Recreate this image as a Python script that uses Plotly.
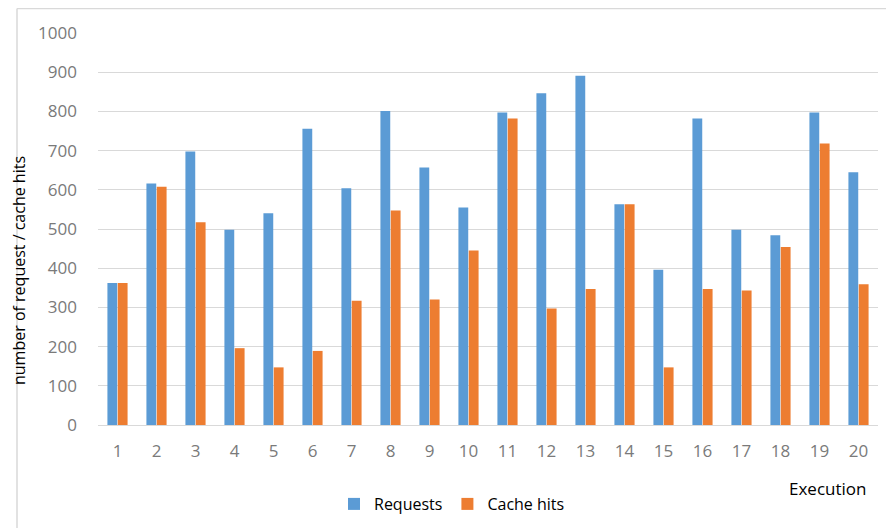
import plotly.graph_objects as go

executions = [str(i) for i in range(1, 21)]
requests = [362, 616, 698, 498, 540, 756, 604, 801, 657, 555,
            797, 846, 891, 563, 396, 782, 498, 484, 797, 645]
cache_hits = [362, 608, 517, 196, 147, 189, 317, 547, 320, 445,
              782, 297, 347, 563, 147, 347, 343, 454, 718, 359]
y_ticks = list(range(0, 1001, 100))

# page has an 8px body margin, so the figure is drawn 8px smaller
OFF = 8
W, H = 894 - OFF, 528 - OFF
L, R, T, B = 90, 16, 25, 103
pw, ph = W - L - R, H - T - B


def px_x(x):
    # page pixel -> paper coordinate
    return (x - OFF - L) / pw


def px_y(y):
    return (H - B - (y - OFF)) / ph


fig = go.Figure()
fig.add_trace(go.Bar(x=executions, y=requests, name="Requests",
                     marker=dict(color="#5b9bd5", line=dict(width=0))))
fig.add_trace(go.Bar(x=executions, y=cache_hits, name="Cache hits",
                     marker=dict(color="#ed7d31", line=dict(width=0))))

fig.update_layout(
    width=W, height=H,
    margin=dict(l=L, r=R, t=T, b=B, autoexpand=False),
    paper_bgcolor="white", plot_bgcolor="white",
    font=dict(family="Open Sans", color="black"),
    barmode="group", bargap=0.47, bargroupgap=0.05,
    showlegend=True,
    legend=dict(orientation="h", x=px_x(452), xanchor="center",
                y=px_y(504), yanchor="middle",
                font=dict(size=16, color="black"),
                itemwidth=30),
    xaxis=dict(type="category", showgrid=False, showline=False,
               ticks="", ticklabelstandoff=14,
               tickfont=dict(size=17, color="#7a7a7a")),
    yaxis=dict(range=[0, 1000], tickvals=y_ticks, showgrid=True,
               gridcolor="#d9d9d9", gridwidth=1, zeroline=True,
               zerolinecolor="#d9d9d9", zerolinewidth=1, showline=False,
               ticks="", ticklabelstandoff=20,
               tickfont=dict(size=17, color="#7a7a7a")),
    annotations=[
        dict(text="number of request / cache hits", textangle=-90,
             xref="paper", yref="paper", x=px_x(19), y=px_y(271),
             xanchor="center", yanchor="middle", showarrow=False,
             font=dict(size=16, color="black")),
        dict(text="Execution", xref="paper", yref="paper",
             x=px_x(827), y=px_y(488), xanchor="center", yanchor="middle",
             showarrow=False, font=dict(size=17, color="black")),
    ],
    shapes=[
        dict(type="line", xref="paper", yref="paper",
             x0=px_x(17), x1=px_x(894), y0=px_y(8.5), y1=px_y(8.5),
             line=dict(color="#d9d9d9", width=1.5)),
        dict(type="line", xref="paper", yref="paper",
             x0=px_x(17), x1=px_x(17), y0=px_y(8.5), y1=px_y(528),
             line=dict(color="#d9d9d9", width=1.5)),
    ],
)

fig.write_html("out.html")
